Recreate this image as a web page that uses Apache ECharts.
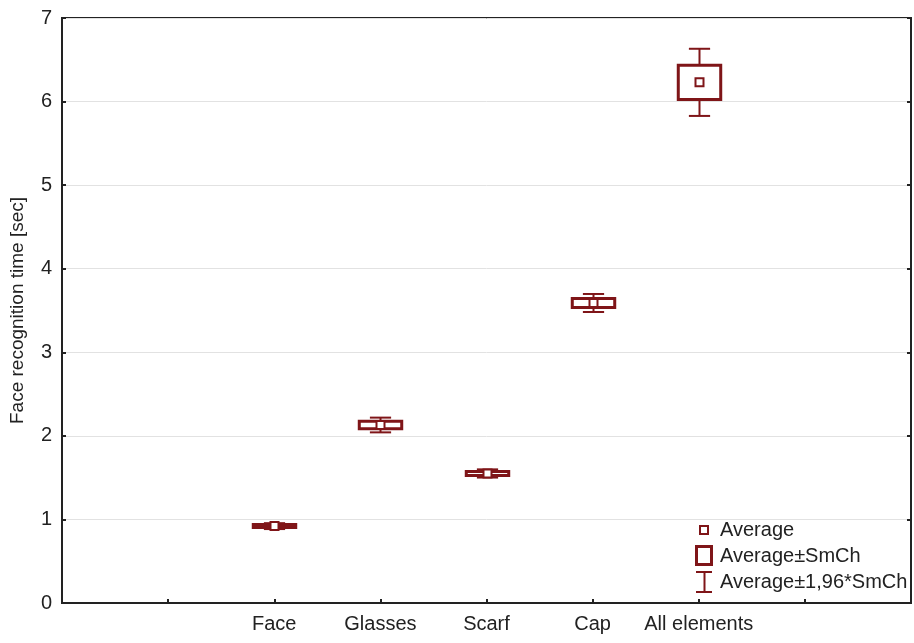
<!DOCTYPE html>
<html>
<head>
<meta charset="utf-8">
<script src="https://cdn.jsdelivr.net/npm/echarts@6/dist/echarts.min.js"></script>
<style>
  html, body { margin: 0; padding: 0; background: #fff; }
  #chart { width: 914px; height: 643px; }
</style>
</head>
<body>
<div id="chart"></div>
<script>
// Face recognition time per occlusion condition: mean, standard error (SmCh)
const categories = ['Face', 'Glasses', 'Scarf', 'Cap', 'All elements'];
const averages = [0.92, 2.13, 1.55, 3.59, 6.23];
const stdErrors = [0.018, 0.045, 0.025, 0.055, 0.205];
const ciFactor = 1.96;
const yTicks = { min: 0, max: 7, interval: 1 };
const legendLabels = ['Average', 'Average±SmCh', 'Average±1,96*SmCh'];

// categories sit on slots 2..6 of an 8-slot axis
const slotOffset = 2;
const xMax = 8;

const color = '#7f1518';
const textColor = '#222';
const font = 'Liberation Sans, Arial, sans-serif';

const seriesData = categories.map((c, i) => [i + slotOffset, averages[i], stdErrors[i]]);

function renderBox(params, api) {
  const x = api.value(0);
  const mean = api.value(1);
  const se = api.value(2);
  const ci = se * ciFactor;
  const c = api.coord([x, mean]);
  const boxTop = api.coord([x, mean + se])[1];
  const boxBot = api.coord([x, mean - se])[1];
  const wTop = api.coord([x, mean + ci])[1];
  const wBot = api.coord([x, mean - ci])[1];
  const unit = api.size([1, 0])[0];
  const boxW = unit * 0.4;
  const capW = unit * 0.2;
  const cx = Math.round(c[0]) + 0.5;
  const lineStyle = { stroke: color, lineWidth: 2, fill: null };
  return {
    type: 'group',
    children: [
      { type: 'line', shape: { x1: cx, y1: wTop, x2: cx, y2: boxTop }, style: lineStyle },
      { type: 'line', shape: { x1: cx, y1: boxBot, x2: cx, y2: wBot }, style: lineStyle },
      { type: 'line', shape: { x1: cx - capW / 2, y1: wTop, x2: cx + capW / 2, y2: wTop }, style: lineStyle },
      { type: 'line', shape: { x1: cx - capW / 2, y1: wBot, x2: cx + capW / 2, y2: wBot }, style: lineStyle },
      { type: 'rect', shape: { x: cx - boxW / 2, y: boxTop, width: boxW, height: boxBot - boxTop },
        style: { stroke: color, lineWidth: 3, fill: '#fff' } },
      { type: 'rect', shape: { x: cx - 4, y: c[1] - 4, width: 8, height: 8 },
        style: { stroke: color, lineWidth: 2, fill: '#fff' } }
    ]
  };
}

// legend drawn as a small key in the lower right of the plot
const legendX = 704, legendTextX = 720;
const legendGraphic = [
  { type: 'rect', shape: { x: legendX - 4, y: 526, width: 8, height: 8 },
    style: { stroke: color, lineWidth: 2, fill: '#fff' } },
  { type: 'rect', shape: { x: legendX - 7.5, y: 546.5, width: 15, height: 18 },
    style: { stroke: color, lineWidth: 3, fill: '#fff' } },
  { type: 'line', shape: { x1: legendX - 8, y1: 572, x2: legendX + 8, y2: 572 }, style: { stroke: color, lineWidth: 2 } },
  { type: 'line', shape: { x1: legendX + 0.5, y1: 572, x2: legendX + 0.5, y2: 592 }, style: { stroke: color, lineWidth: 2 } },
  { type: 'line', shape: { x1: legendX - 8, y1: 592, x2: legendX + 8, y2: 592 }, style: { stroke: color, lineWidth: 2 } }
].concat(legendLabels.map((t, i) => ({
  type: 'text',
  x: legendTextX,
  y: [530, 556, 582][i],
  style: { text: t, fill: textColor, font: '20px ' + font, textVerticalAlign: 'middle' }
})));

const chart = echarts.init(document.getElementById('chart'), null, { renderer: 'canvas' });
chart.setOption({
  animation: false,
  backgroundColor: '#fff',
  grid: { left: 62, right: 1, top: 18, bottom: 40, show: true, borderColor: textColor, borderWidth: 2, backgroundColor: 'transparent' },
  xAxis: {
    type: 'value', min: 0, max: xMax, interval: 1,
    axisLine: { show: true, lineStyle: { color: textColor, width: 2 } },
    axisTick: { show: true, inside: true, length: 4, lineStyle: { color: textColor, width: 2 } },
    axisLabel: {
      color: textColor, fontSize: 20, fontFamily: font, margin: 11,
      formatter: v => categories[v - slotOffset] || ''
    },
    splitLine: { show: false }
  },
  yAxis: [{
    type: 'value', min: yTicks.min, max: yTicks.max, interval: yTicks.interval,
    name: 'Face recognition time [sec]', nameLocation: 'middle', nameRotate: 90, nameGap: 35,
    nameTextStyle: { color: textColor, fontSize: 19, fontFamily: font },
    axisLine: { show: true, lineStyle: { color: textColor, width: 2 } },
    axisTick: { show: true, inside: true, length: 4, lineStyle: { color: textColor, width: 2 } },
    axisLabel: { color: textColor, fontSize: 20, fontFamily: font, margin: 10 },
    splitLine: { show: true, lineStyle: { color: '#e2e2e2', width: 1 } }
  }, {
    type: 'value', position: 'right', min: yTicks.min, max: yTicks.max, interval: yTicks.interval,
    axisLine: { show: false },
    axisTick: { show: true, inside: true, length: 4, lineStyle: { color: textColor, width: 2 } },
    axisLabel: { show: false },
    splitLine: { show: false }
  }],
  series: [{
    type: 'custom',
    renderItem: renderBox,
    data: seriesData,
    encode: { x: 0, y: 1 },
    clip: false
  }],
  graphic: legendGraphic
});
</script>
</body>
</html>
